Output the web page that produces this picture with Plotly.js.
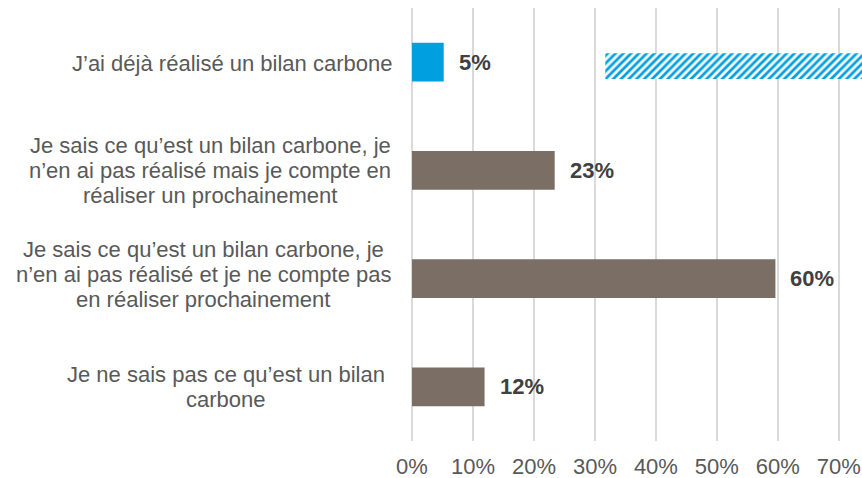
<!DOCTYPE html>
<html>
<head>
<meta charset="utf-8">
<script src="https://cdn.plot.ly/plotly-3.0.1.min.js"></script>
<style>html,body{margin:0;padding:0;background:#fff;}#chart{width:862px;height:478px;}</style>
</head>
<body>
<div id="chart"></div>
<script>
const categories = [
  "J’ai déjà réalisé un bilan carbone",
  "Je sais ce qu’est un bilan carbone, je<br>n’en ai pas réalisé mais je compte en<br>réaliser un prochainement",
  "Je sais ce qu’est un bilan carbone, je<br>n’en ai pas réalisé et je ne compte pas<br>en réaliser prochainement",
  "Je ne sais pas ce qu’est un bilan<br>carbone"
];
const values = [5.2, 23.4, 59.6, 11.9];
const valueLabels = ["5%", "23%", "60%", "12%"];
const hatchCategory = [categories[0]];
const hatchStart = [31.7];
const hatchLength = [50];
const tickValues = [0, 10, 20, 30, 40, 50, 60, 70];
const tickLabels = ["0%", "10%", "20%", "30%", "40%", "50%", "60%", "70%"];

// layout-only settings (not data)
const BLUE = "#00a0e0";
const BROWN = "#7a6e65";
const FONT = "Liberation Sans, Arial, sans-serif";
const FS = 22;
const LINE_H = 25;
const labelGap = [20, 21, 21, 27];
const labelYShift = [-1, 0, 4, 0];

const traces = [
  {
    type: "bar", orientation: "h",
    y: categories, x: values,
    width: 0.357,
    marker: {color: [BLUE, BROWN, BROWN, BROWN]},
    hoverinfo: "skip"
  },
  {
    type: "bar", orientation: "h",
    y: hatchCategory, x: hatchLength, base: hatchStart,
    width: 0.238, offset: -0.083,
    marker: {color: "#ffffff", pattern: {shape: "/", fgcolor: BLUE, bgcolor: "#ffffff", size: 5.5, solidity: 0.5}},
    hoverinfo: "skip"
  }
];

const ctx = document.createElement("canvas").getContext("2d");
ctx.font = FS + "px 'Liberation Sans', Arial, sans-serif";

const annotations = [];
categories.forEach((c, i) => {
  const lines = c.split("<br>");
  const n = lines.length;
  const blockW = Math.max(...lines.map(l => ctx.measureText(l).width));
  lines.forEach((line, j) => {
    annotations.push({
      xref: "paper", yref: "y", x: 0, y: c,
      xshift: -(labelGap[i] + blockW / 2),
      yshift: -(j - (n - 1) / 2) * LINE_H + labelYShift[i],
      xanchor: "center", yanchor: "middle", align: "center",
      text: line, showarrow: false,
      font: {family: FONT, size: FS, color: "#595959"}
    });
  });
  annotations.push({
    xref: "x", yref: "y", x: values[i], y: c, xshift: 13,
    xanchor: "left", yanchor: "middle",
    text: "<b>" + valueLabels[i] + "</b>", showarrow: false,
    font: {family: FONT, size: FS, color: "#404040"}
  });
});

const layout = {
  width: 862, height: 478,
  margin: {l: 412, r: 0, t: 8, b: 37, pad: 0},
  paper_bgcolor: "#ffffff", plot_bgcolor: "#ffffff",
  showlegend: false,
  barmode: "overlay",
  font: {family: FONT, size: FS, color: "#595959"},
  xaxis: {
    range: [0, 73.8], tickvals: tickValues, ticktext: tickLabels,
    showgrid: true, gridcolor: "#d9d9d9", gridwidth: 1.5,
    zeroline: true, zerolinecolor: "#d9d9d9", zerolinewidth: 1.5,
    showline: false, ticks: "", ticklabelstandoff: 10,
    tickfont: {family: FONT, size: FS, color: "#595959"},
    fixedrange: true
  },
  yaxis: {
    type: "category", categoryorder: "array", categoryarray: categories,
    range: [3.5, -0.5], showticklabels: false, showgrid: false,
    zeroline: false, showline: false, ticks: "", fixedrange: true
  },
  annotations: annotations
};

Plotly.newPlot("chart", traces, layout, {displayModeBar: false, staticPlot: true});
</script>
</body>
</html>
